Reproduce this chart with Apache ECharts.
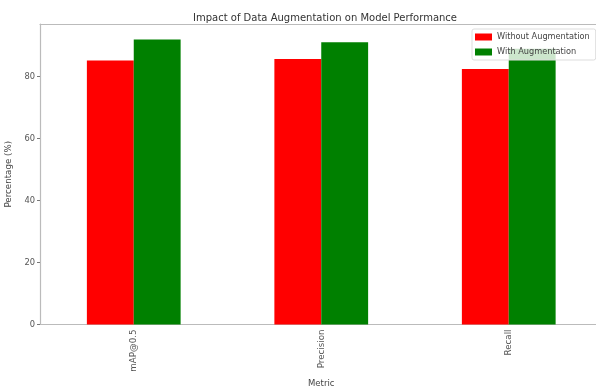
<!DOCTYPE html>
<html><head><meta charset="utf-8">
<script src="https://cdn.jsdelivr.net/npm/echarts@6/dist/echarts.min.js"></script>
<style>html,body{margin:0;padding:0;background:#fff}#c{width:596px;height:387px}</style>
</head><body><div id="c"></div>
<script>
const categories = ["mAP@0.5", "Precision", "Recall"];
const withoutAug = [85.2, 85.7, 82.5];
const withAug = [92.0, 91.1, 89.0];
const yTicks = [0, 20, 40, 60, 80];

const chart = echarts.init(document.getElementById('c'));
const font = 'DejaVu Sans';
chart.setOption({
  animation: false,
  title: { text: 'Impact of Data Augmentation on Model Performance', left: 320, top: 8, textAlign: 'center',
    textStyle: { fontFamily: font, fontSize: 10, fontWeight: 'normal', color: '#333' } },
  legend: { left: 472, top: 29, orient: 'vertical', itemWidth: 17, itemHeight: 7, itemGap: 7,
    backgroundColor: 'rgba(255,255,255,0.8)', borderColor: '#ddd', borderWidth: 1, borderRadius: 2, padding: [4,6,4,3],
    textStyle: { fontFamily: font, fontSize: 8.2, color: '#444' }, icon: 'rect' },
  grid: { left: 40, width: 562.5, top: 24, height: 300.5, show: false,
    containLabel: false, outerBoundsMode: 'none' },
  xAxis: [
    { type: 'category', data: categories, name: 'Metric', nameLocation: 'middle', nameGap: 51,
      nameTextStyle: { fontFamily: font, fontSize: 8.5, color: '#444' },
      axisLine: { lineStyle: { color: '#bbb', width: 1.2 } },
      axisTick: { alignWithLabel: true, length: 3, lineStyle: { color: '#777' } },
      axisLabel: { rotate: 90, fontFamily: font, fontSize: 8.7, color: '#555', margin: 5 } },
    { type: 'category', data: categories, position: 'top',
      axisLine: { show: true, lineStyle: { color: '#bbb', width: 1.2 } },
      axisTick: { show: false }, axisLabel: { show: false } }
  ],
  yAxis: { type: 'value', min: 0, max: 97, interval: 20, name: 'Percentage (%)', nameLocation: 'middle', nameGap: 25,
    nameTextStyle: { fontFamily: font, fontSize: 8.7, color: '#444' },
    splitLine: { show: false },
    axisLine: { show: true, lineStyle: { color: '#bbb', width: 1.2 } },
    axisTick: { show: true, length: 3, lineStyle: { color: '#777' }, customValues: yTicks },
    axisLabel: { fontFamily: font, fontSize: 8.3, color: '#555', margin: 5, customValues: yTicks } },
  series: [
    { name: 'Without Augmentation', type: 'bar', data: withoutAug, itemStyle: { color: '#ff0000' }, barGap: '0%', barCategoryGap: '50%' },
    { name: 'With Augmentation', type: 'bar', data: withAug, itemStyle: { color: '#008000' }, barGap: '0%', barCategoryGap: '50%' }
  ]
});
</script></body></html>
